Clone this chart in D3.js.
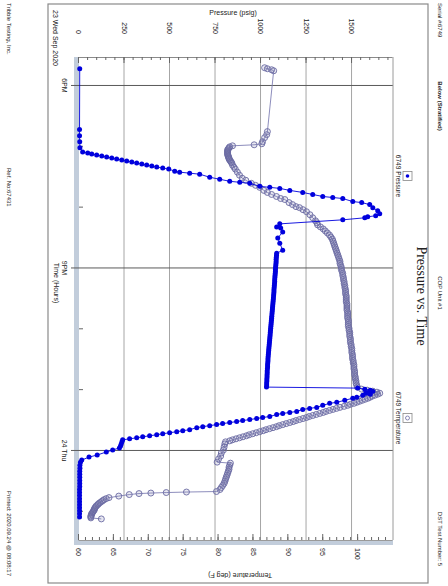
<!DOCTYPE html>
<html>
<head>
<meta charset="utf-8">
<script src="https://cdn.jsdelivr.net/npm/d3@7"></script>
<style>
  html, body { margin: 0; padding: 0; background: #fff; }
  svg { display: block; }
  text { font-family: "Liberation Sans", Arial, sans-serif; fill: #222; }
</style>
</head>
<body>
<svg id="chart" width="448" height="586"></svg>
<script>
// Readings are stored as [minutes after 6 PM on 23 Sep 2020, value]
const timeOrigin = new Date(2020, 8, 23, 18, 0, 0);
const timeExtent = [new Date(2020, 8, 23, 17, 33, 24), new Date(2020, 8, 24, 1, 28, 48)];

const pressureTicks = [0, 250, 500, 750, 1000, 1250, 1500];
const temperatureTicks = [60, 65, 70, 75, 80, 85, 90, 95, 100];
const timeMajorTicks = [new Date(2020, 8, 23, 18), new Date(2020, 8, 23, 21), new Date(2020, 8, 24, 0)];
const timeTickLabels = ["6PM", "9PM", "24 Thu"];
const timeMinorTicks = [new Date(2020, 8, 23, 19), new Date(2020, 8, 23, 20), new Date(2020, 8, 23, 22),
                        new Date(2020, 8, 23, 23), new Date(2020, 8, 24, 1)];

// 6749 Pressure (psig)
const pressureReadings = [
  [-16,4],
  [44,3],[50,3],[56,4],[62,5],
  [66,20],[67,48],[68,70],[69,97],[70,125],[71,152],[72,180],[73,207],[74,235],[75,262],[76,290],
  [77,317],[78,345],[79,372],[80,400],[81,427],[82,460],[83,493],[85,526],[86,553],[87,608],[88,663],
  [91,718],[93,773],[95,828],[96,883],[97,938],[100,993],[101,1048],[102,1103],[104,1158],[106,1229],
  [108,1284],[110,1339],[111,1394],[112,1449],[115,1504],[116,1553],[118,1597],[121,1614],[124,1641],
  [127,1652],[129,1630],[130,1586],[131,1570],[133,1449],[137,1103],[140,1086],[141,1108],[145,1119],
  [151,1092],[156,1103],[163,1119],[166,1086],
  [168,1085],[170,1084],[172,1083],[174,1083],[176,1082],[178,1081],[180,1080],[182,1079],[184,1079],
  [186,1078],[188,1077],[190,1076],[192,1075],[194,1075],[196,1074],[198,1073],[200,1072],[202,1071],
  [204,1071],[206,1070],[208,1069],[210,1068],[212,1067],[214,1066],[216,1065],[218,1064],[220,1063],
  [222,1062],[224,1061],[226,1060],[228,1059],[230,1058],[232,1057],[234,1056],[236,1055],[238,1054],
  [240,1053],[242,1052],[244,1051],[246,1050],[248,1049],[250,1048],[252,1047],[254,1046],[256,1045],
  [258,1044],[260,1043],[262,1042],[264,1041],[266,1040],[268,1039],[270,1038],[272,1038],[274,1037],
  [276,1036],[278,1036],[280,1035],[282,1034],[284,1034],[286,1033],[288,1033],[290,1032],[292,1032],
  [294,1031],[296,1031],[298,1030],
  [299,1531],[300,1570],[301,1600],[302,1614],[303,1592],[304,1575],[305,1600],[306,1559],[308,1526],
  [309,1504],[311,1460],[313,1416],[314,1377],[316,1339],[318,1306],[319,1267],[320,1229],[322,1196],
  [323,1158],[324,1119],[325,1086],[327,1048],[328,1009],[329,976],[330,938],[331,899],[332,866],
  [333,828],[334,789],[335,756],[336,718],[337,680],[338,647],[340,608],[341,570],[342,537],[343,498],
  [344,460],[345,427],[346,388],[347,350],[348,317],[349,278],[350,240],[352,236],[354,232],[356,228],
  [358,222],[360,185],[362,150],[365,100],[367,55],[370,15],[372,8],[375,5],[378,5],[381,4],[384,4],
  [387,4],[390,4],[393,4],[396,4],[399,3],[402,3],[405,3],[408,3],[411,3],[414,3],[417,3],[420,3],
  [423,3],[426,3]
];

// 6749 Temperature (deg F)
const temperatureReadings = [
  [-17,86.6],[-16,87.0],[-15,87.6],[-14,87.9],
  [46,87.0],[49,86.9],[52,86.6],[56,86.3],[58,86.2],[59,85.1],[60,82.0],
  [61,81.6],[62,81.5],[63,81.4],[64,81.3],[65,81.3],[66,81.3],[67,81.3],[68,81.3],[69,81.3],[70,81.4],
  [71,81.4],[72,81.5],[73,81.5],[74,81.6],[75,81.7],[76,81.8],[77,81.9],
  [79,82.0],[81,82.2],[83,82.4],[86,82.7],[89,83.0],[92,83.4],[94,83.9],[97,84.7],[99,85.3],[101,85.9],
  [104,86.5],[106,87.0],[108,87.6],[110,88.3],[112,88.9],[113,89.5],[116,90.1],[118,90.6],[120,91.1],
  [121,91.6],[123,92.1],[125,92.6],[128,93.1],[131,93.5],[134,93.9],[136,94.1],
  [138,94.2],[140,94.6],[142,95.0],[144,95.3],[146,95.6],[148,95.9],[150,96.1],[152,96.3],[154,96.4],
  [156,96.5],[158,96.6],[160,96.7],[162,96.8],[164,96.9],[166,97.0],[168,97.1],[170,97.2],[172,97.3],
  [174,97.4],[176,97.4],[178,97.5],[180,97.6],[182,97.6],[184,97.7],[186,97.8],[188,97.8],[190,97.9],
  [192,97.9],[194,98.0],[196,98.0],[198,98.1],[200,98.1],[202,98.2],[204,98.2],[206,98.2],[208,98.3],
  [210,98.3],[212,98.3],[214,98.3],[216,98.4],[218,98.4],[220,98.4],[222,98.4],[224,98.5],[226,98.5],
  [228,98.5],[230,98.5],[232,98.6],[234,98.6],[236,98.6],[238,98.6],[240,98.7],[242,98.7],[244,98.8],
  [246,98.8],[248,98.8],[250,98.9],[252,98.9],[254,98.9],[256,99.0],[258,99.0],[260,99.1],[262,99.1],
  [264,99.1],[266,99.2],[268,99.2],[270,99.2],[272,99.3],[274,99.3],[276,99.4],[278,99.4],[280,99.4],
  [282,99.5],[284,99.5],[286,99.5],[288,99.6],[290,99.6],[292,99.7],[294,99.7],[296,99.8],[298,99.9],
  [300,100.5],[301,101.3],[302,102.1],[303,102.7],[304,103.1],[305,102.8],[306,102.4],[307,102.0],
  [308,101.7],[309,101.4],[310,101.0],[311,100.6],[312,100.2],[313,99.8],[314,99.4],[315,98.9],
  [316,98.5],[317,98.0],[318,97.4],[319,96.9],[320,96.4],[321,95.9],[322,95.4],[323,95.0],[324,94.5],
  [325,94.0],[326,93.5],[327,93.0],[328,92.6],[329,92.1],[330,91.6],[331,91.1],[332,90.7],[333,90.2],
  [334,89.7],[335,89.2],[336,88.7],[337,88.3],[338,87.8],[339,87.3],[340,86.8],[341,86.4],[342,85.9],
  [343,85.4],[344,84.9],[345,84.4],[346,84.0],[347,83.5],[348,83.0],[349,82.5],[350,82.0],[351,81.6],
  [352,81.0],[354,80.9],[357,80.8],[360,80.7],[363,80.4],[366,80.3],[369,80.0],[372,79.8],
  [373,81.7],[375,81.6],[377,81.5],[379,81.5],[381,81.4],[383,81.3],[385,81.2],[387,81.1],[389,81.0],
  [391,80.9],[393,80.8],[395,80.6],[397,80.4],[399,80.2],[401,79.7],
  [401.5,75.4],[402,72.5],[402.5,70.3],[403,68.6],[404,67.2],[405.5,65.7],[407,64.3],
  [408,63.9],[409,63.6],[410,63.4],[411,63.2],[412,63.0],[413,62.8],[414,62.7],[415,62.5],[416,62.4],
  [417,62.3],[418,62.2],[419,62.2],[420,62.1],[421,62.0],[422,61.9],[423,61.8],[424,61.8],[425,61.7],
  [426,61.7],[427,61.7],[428,63.2]
];

const minute = m => new Date(timeOrigin.getTime() + m * 60000);
const pressure = pressureReadings.map(([m, v]) => ({ t: minute(m), v }));
const temperature = temperatureReadings.map(([m, v]) => ({ t: minute(m), v }));

// Landscape page (586 x 448) turned a quarter clockwise onto the portrait canvas
const svg = d3.select("#chart");
const page = svg.append("g").attr("transform", "translate(448,0) rotate(90)");

const plot = { left: 57, right: 540, top: 55, bottom: 369 };

const x = d3.scaleTime().domain(timeExtent).range([58, plot.right]);
const yP = d3.scaleLinear().domain([0, 1725]).range([plot.bottom, plot.top]);
const yT = d3.scaleLinear().domain([60, 105]).range([plot.bottom, plot.top]);

const axisFont = "'Liberation Sans', Arial, sans-serif";

// outer frame
page.append("rect").attr("x", 4).attr("y", 20).attr("width", 579).attr("height", 380)
  .attr("fill", "none").attr("stroke", "#8a8a8a").attr("stroke-width", 1.2);

// header and footer lines
const small = 6;
function label(txt, u, v, anchor, opts = {}) {
  const t = page.append("text").attr("x", u).attr("y", v).attr("text-anchor", anchor)
    .attr("font-size", opts.size || small).text(txt);
  if (opts.bold) t.attr("font-weight", "bold");
  return t;
}
label("Serial #:", 3, 10, "start");
label("6749", 24, 10, "start");
label("Below (Stratified)", 106, 10, "middle", { bold: true });
label("COP Unit #1", 293, 10, "middle");
label("DST Test Number: 5", 566, 10, "end");
label("Tribble Testing, Inc.", 3, 441, "start");
label("Ref. No:", 168, 441, "start");
label("67431", 190, 441, "start");
label("Printed: 2020.09.24 @ 08:08:17", 576, 441, "end");

// title
page.append("text").attr("x", 296).attr("y", 31.5).attr("text-anchor", "middle")
  .attr("font-size", 14).style("font-family", "'Liberation Serif', 'Times New Roman', serif")
  .text("Pressure vs. Time");

// shaded floor and right wall of the plot
page.append("rect").attr("x", plot.left).attr("y", plot.bottom).attr("width", plot.right + 5 - plot.left)
  .attr("height", 5).attr("fill", "#c2cddb");
page.append("rect").attr("x", plot.right).attr("y", plot.top).attr("width", 5)
  .attr("height", plot.bottom + 5 - plot.top).attr("fill", "#c2cddb");

// pressure grid lines
page.append("g").attr("transform", `translate(${plot.left},0)`)
  .call(d3.axisLeft(yP).tickValues(pressureTicks.slice(1)).tickSize(-(plot.right - plot.left)).tickFormat(""))
  .call(g => g.select(".domain").remove())
  .call(g => g.selectAll("line").attr("stroke", "#a6a6a6"));

// time grid lines
page.append("g").attr("transform", `translate(0,377)`)
  .call(d3.axisBottom(x).tickValues(timeMajorTicks).tickSize(-(377 - plot.top)).tickFormat(""))
  .call(g => g.select(".domain").remove())
  .call(g => g.selectAll("line").attr("stroke", "#5a5a5a"));

// top border of the plot
page.append("line").attr("x1", plot.left).attr("x2", plot.right).attr("y1", plot.top).attr("y2", plot.top)
  .attr("stroke", "#9a9a9a");

// time axis
page.append("g").attr("transform", `translate(0,${plot.bottom})`)
  .call(d3.axisBottom(x).tickValues(timeMinorTicks).tickSize(-4).tickFormat(""))
  .call(g => g.select(".domain").remove())
  .call(g => g.selectAll("line").attr("stroke", "#666"));
page.append("g").attr("transform", `translate(0,${plot.bottom})`)
  .call(d3.axisBottom(x).tickValues(timeMajorTicks).tickSize(0).tickPadding(12)
    .tickFormat((d, i) => timeTickLabels[i]))
  .call(g => g.select(".domain").remove())
  .call(g => g.selectAll("text").attr("font-size", 7).attr("fill", "#222").style("font-family", axisFont));
label("23 Wed Sep 2020", 10, 395, "start", { size: 7 });
label("Time (Hours)", 283, 394, "middle", { size: 7 });

// pressure axis (left)
page.append("g").attr("transform", `translate(${plot.left},0)`)
  .call(d3.axisLeft(yP).tickValues(d3.range(0, 1701, 50)).tickSize(-3).tickFormat("").tickSizeOuter(0))
  .call(g => g.selectAll("line").attr("stroke", "#666"))
  .call(g => g.select(".domain").attr("stroke", "#8a8a8a"));
page.append("g").attr("transform", `translate(${plot.left},0)`)
  .call(d3.axisLeft(yP).tickValues(pressureTicks).tickFormat(d3.format("d"))
    .tickSize(-6).tickPadding(23).tickSizeOuter(0))
  .call(g => g.select(".domain").remove())
  .call(g => g.selectAll("line").attr("stroke", "#666"))
  .call(g => g.selectAll("text").attr("font-size", 7).attr("fill", "#222").style("font-family", axisFont));
page.append("text").attr("transform", `translate(15,215) rotate(-90)`).attr("text-anchor", "middle")
  .attr("font-size", 7).text("Pressure (psig)");

// temperature axis (right)
page.append("g").attr("transform", `translate(${plot.right},0)`)
  .call(d3.axisRight(yT).tickValues(d3.range(60, 105, 1)).tickSize(-3).tickFormat("").tickSizeOuter(0))
  .call(g => g.selectAll("line").attr("stroke", "#666"))
  .call(g => g.select(".domain").attr("stroke", "#9a9a9a"));
page.append("g").attr("transform", `translate(${plot.right},0)`)
  .call(d3.axisRight(yT).tickValues(temperatureTicks).tickFormat(d3.format("d"))
    .tickSize(-6).tickPadding(8).tickSizeOuter(0))
  .call(g => g.select(".domain").remove())
  .call(g => g.selectAll("line").attr("stroke", "#666"))
  .call(g => g.selectAll("text").attr("font-size", 7).attr("fill", "#222").style("font-family", axisFont));
page.append("text").attr("transform", `translate(573,208) rotate(90)`).attr("text-anchor", "middle")
  .attr("font-size", 7).text("Temperature (deg F)");

// temperature series
const tempColor = "#6b6ba3";
page.append("path").datum(temperature)
  .attr("d", d3.line().x(d => x(d.t)).y(d => yT(d.v)))
  .attr("fill", "none").attr("stroke", "#8080b4").attr("stroke-width", 0.9);
page.append("g").selectAll("circle").data(temperature).join("circle")
  .attr("cx", d => x(d.t)).attr("cy", d => yT(d.v)).attr("r", 3)
  .attr("fill", "rgba(130,130,180,0.18)").attr("stroke", tempColor).attr("stroke-width", 0.9);

// pressure series
const pressColor = "#0000dd";
page.append("path").datum(pressure)
  .attr("d", d3.line().x(d => x(d.t)).y(d => yP(d.v)))
  .attr("fill", "none").attr("stroke", pressColor).attr("stroke-width", 0.9);
page.append("g").selectAll("circle").data(pressure).join("circle")
  .attr("cx", d => x(d.t)).attr("cy", d => yP(d.v)).attr("r", 2.5)
  .attr("fill", pressColor);

// legend
const legend = [
  { name: "6749 Pressure", u: 176, kind: "p" },
  { name: "6749 Temperature", u: 418, kind: "t" }
];
legend.forEach(item => {
  const g = page.append("g");
  g.append("rect").attr("x", item.u - 4.5).attr("y", 36).attr("width", 9).attr("height", 9)
    .attr("fill", "#fff").attr("stroke", "#888").attr("stroke-width", 0.8);
  if (item.kind === "p") {
    g.append("circle").attr("cx", item.u).attr("cy", 40.5).attr("r", 1.8).attr("fill", pressColor);
  } else {
    g.append("circle").attr("cx", item.u).attr("cy", 40.5).attr("r", 2).attr("fill", "none")
      .attr("stroke", tempColor).attr("stroke-width", 0.8);
  }
  g.append("text").attr("x", item.u).attr("y", 52.5).attr("text-anchor", "middle")
    .attr("font-size", 6.5).text(item.name);
});
</script>
</body>
</html>
